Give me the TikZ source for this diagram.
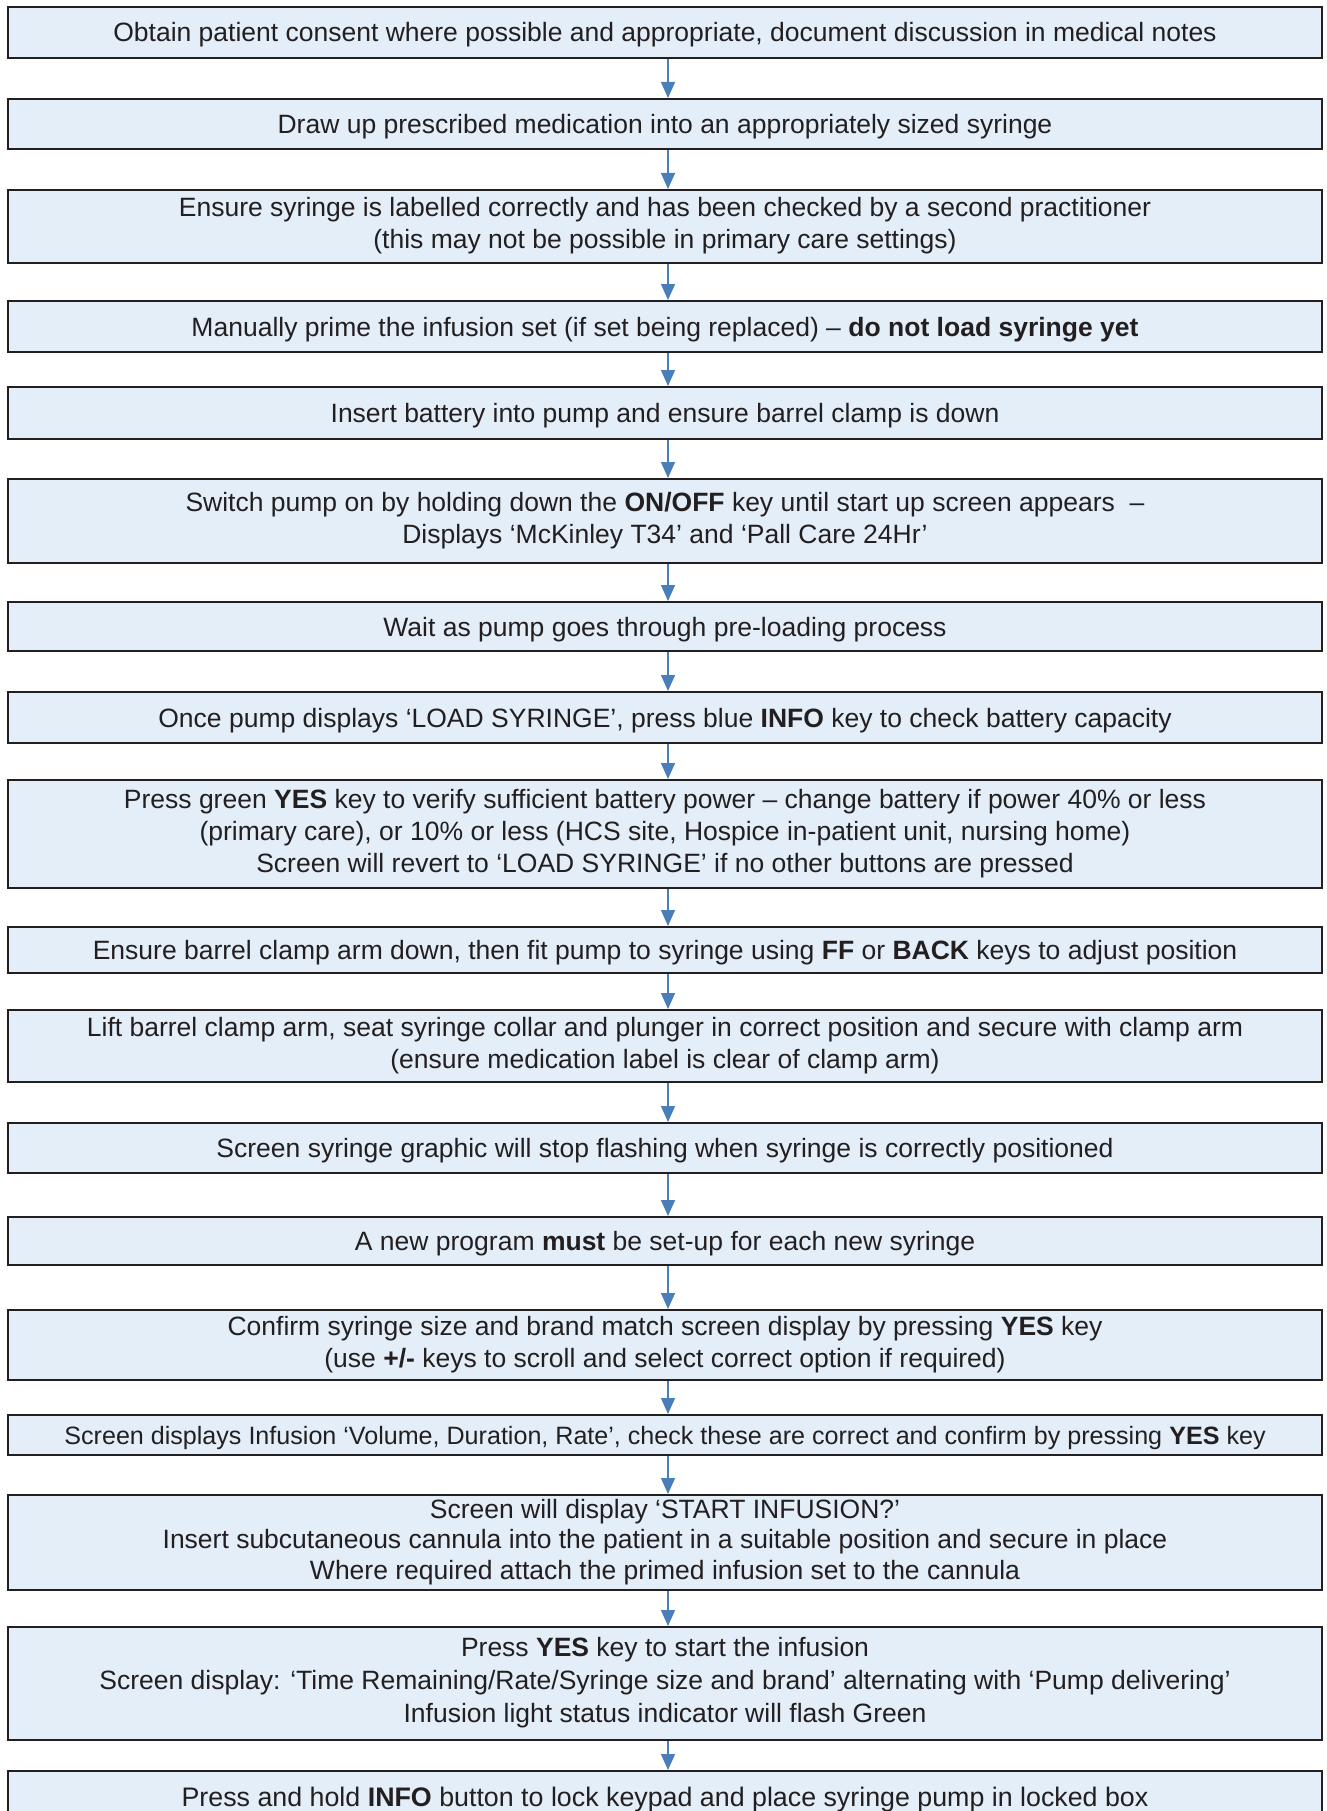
\documentclass[tikz,border=0pt]{standalone}
\usepackage{fontspec}
\setmainfont{Liberation Sans}
\usetikzlibrary{arrows.meta}
\definecolor{boxfill}{HTML}{E3EEF9}
\definecolor{boxline}{HTML}{231F20}
\definecolor{txt}{HTML}{231F20}
\definecolor{arr}{HTML}{4A7EBB}
\newcommand{\hstrut}{\rule{0pt}{25.6pt}}
\newcommand{\dstrut}{\rule[-6.6pt]{0pt}{0pt}}
\tikzset{
  stepbox/.style={draw=boxline, line width=2pt, fill=boxfill, text=txt,
    inner sep=0pt, minimum width=1314pt, align=center,
    font=\fontsize{26.5}{32}\selectfont,
    execute at begin node=\hstrut, execute at end node=\dstrut},
  flow/.style={draw=arr, line width=1.5pt, -{Triangle[width=14pt,length=16pt]}}
}
\begin{document}
\begin{tikzpicture}[x=1pt,y=-1pt]
\useasboundingbox (0,0) rectangle (1326,1811);
\node[stepbox, minimum height=51pt] (b1) at (665,32.5) {Obtain patient consent where possible and appropriate, document discussion in medical notes};
\node[stepbox, minimum height=50pt] (b2) at (665,124) {Draw up prescribed medication into an appropriately sized syringe};
\node[stepbox, minimum height=73pt] (b3) at (665,226.5) {Ensure syringe is labelled correctly and has been checked by a second practitioner\\(this may not be possible in primary care settings)};
\node[stepbox, minimum height=51pt] (b4) at (665,326.5) {Manually prime the infusion set (if set being replaced) -- \textbf{do not load syringe yet}};
\node[stepbox, minimum height=52pt] (b5) at (665,413) {Insert battery into pump and ensure barrel clamp is down};
\node[stepbox, minimum height=84pt] (b6) at (665,521) {Switch pump on by holding down the \textbf{ON/OFF} key until start up screen appears~ --\\Displays ‘McKinley T34’ and ‘Pall Care 24Hr’};
\node[stepbox, minimum height=49pt] (b7) at (665,626.5) {Wait as pump goes through pre-loading process};
\node[stepbox, minimum height=51pt] (b8) at (665,717.5) {Once pump displays ‘LOAD SYRINGE’, press blue \textbf{INFO} key to check battery capacity};
\node[stepbox, minimum height=108pt] (b9) at (665,834) {Press green \textbf{YES} key to verify sufficient battery power -- change battery if power 40\% or less\\(primary care), or 10\% or less (HCS site, Hospice in-patient unit, nursing home)\\Screen will revert to ‘LOAD SYRINGE’ if no other buttons are pressed};
\node[stepbox, minimum height=46pt] (b10) at (665,950) {Ensure barrel clamp arm down, then fit pump to syringe using \textbf{FF} or \textbf{BACK} keys to adjust position};
\node[stepbox, minimum height=72pt] (b11) at (665,1046) {Lift barrel clamp arm, seat syringe collar and plunger in correct position and secure with clamp arm\\(ensure medication label is clear of clamp arm)};
\node[stepbox, minimum height=50pt] (b12) at (665,1148) {Screen syringe graphic will stop flashing when syringe is correctly positioned};
\node[stepbox, minimum height=48pt] (b13) at (665,1241) {A new program \textbf{must} be set-up for each new syringe};
\node[stepbox, minimum height=70pt] (b14) at (665,1345) {Confirm syringe size and brand match screen display by pressing \textbf{YES} key\\(use \textbf{+/-} keys to scroll and select correct option if required)};
\node[stepbox, minimum height=40pt, font=\fontsize{25.1}{30}\selectfont] (b15) at (665,1435) {Screen displays Infusion ‘Volume, Duration, Rate’, check these are correct and confirm by pressing \textbf{YES} key};
\node[stepbox, minimum height=95pt, font=\fontsize{26.5}{30.5}\selectfont] (b16) at (665,1542.5) {Screen will display ‘START INFUSION?’\\Insert subcutaneous cannula into the patient in a suitable position and secure in place\\Where required attach the primed infusion set to the cannula};
\node[stepbox, minimum height=113pt, font=\fontsize{26.5}{33}\selectfont] (b17) at (665,1683.5) {Press \textbf{YES} key to start the infusion\\Screen display: ‘Time Remaining/Rate/Syringe size and brand’ alternating with ‘Pump delivering’\\Infusion light status indicator will flash Green};
\node[stepbox, minimum height=51pt, font=\fontsize{26.8}{32}\selectfont] (b18) at (665,1796.5) {Press and hold \textbf{INFO} button to lock keypad and place syringe pump in locked box};
\foreach \a/\b in {b1/b2,b2/b3,b3/b4,b4/b5,b5/b6,b6/b7,b7/b8,b8/b9,b9/b10,b10/b11,b11/b12,b12/b13,b13/b14,b14/b15,b15/b16,b16/b17,b17/b18}
  \draw[flow] ([xshift=3pt]\a.south) -- ([xshift=3pt]\b.north);
\end{tikzpicture}
\end{document}
